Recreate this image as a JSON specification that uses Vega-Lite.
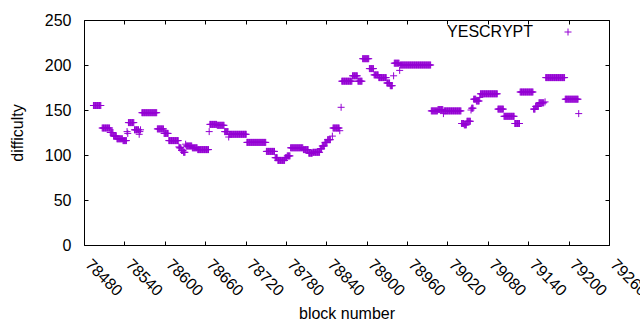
{
"$schema": "https://vega.github.io/schema/vega-lite/v6.json",
"width": 525, "height": 225,
"autosize": {"type": "none"},
"padding": {"left": 84, "top": 20, "right": 31, "bottom": 85},
"background": "white",
"config": {
  "font": "Liberation Sans",
  "view": {"stroke": "#000", "strokeWidth": 1},
  "axis": {"grid": false, "domain": false, "tickColor": "#000", "tickSize": 4, "offset": -4, "labelColor": "#000", "titleColor": "#000", "labelFontSize": 16, "titleFontSize": 16, "titleFontWeight": "normal", "labelFont": "Liberation Sans", "titleFont": "Liberation Sans"}
},
"datasets": {"pts": [
{"b":78494,"d":155},{"b":78495,"d":155},{"b":78496,"d":155},{"b":78497,"d":155},{"b":78498,"d":155},{"b":78499,"d":155},{"b":78500,"d":155},{"b":78501,"d":155},{"b":78502,"d":155},{"b":78503,"d":155},{"b":78504,"d":155},{"b":78505,"d":155},
{"b":78507,"d":130},{"b":78508,"d":130},{"b":78509,"d":130},{"b":78510,"d":130},{"b":78511,"d":130},{"b":78512,"d":130},{"b":78513,"d":130},{"b":78514,"d":130},{"b":78515,"d":130},{"b":78516,"d":130},{"b":78517,"d":130},{"b":78518,"d":130},
{"b":78519,"d":125},{"b":78520,"d":125},{"b":78521,"d":125},{"b":78522,"d":125},{"b":78523,"d":125},
{"b":78524,"d":121},{"b":78525,"d":121},{"b":78526,"d":121},{"b":78527,"d":121},{"b":78528,"d":121},
{"b":78529,"d":118},{"b":78530,"d":118},{"b":78531,"d":118},{"b":78532,"d":118},{"b":78533,"d":118},{"b":78534,"d":118},{"b":78535,"d":118},{"b":78536,"d":118},{"b":78537,"d":118},
{"b":78538,"d":116},{"b":78539,"d":116},{"b":78540,"d":116},{"b":78541,"d":116},{"b":78542,"d":116},{"b":78543,"d":116},
{"b":78544,"d":126},{"b":78545,"d":124},
{"b":78546,"d":136},{"b":78547,"d":136},{"b":78548,"d":136},{"b":78549,"d":136},{"b":78550,"d":136},{"b":78551,"d":136},{"b":78552,"d":136},{"b":78553,"d":136},{"b":78554,"d":136},
{"b":78555,"d":128},{"b":78556,"d":128},{"b":78557,"d":128},{"b":78558,"d":128},{"b":78559,"d":128},{"b":78560,"d":128},{"b":78561,"d":128},{"b":78562,"d":123},{"b":78563,"d":126},{"b":78564,"d":128},
{"b":78566,"d":147},{"b":78567,"d":147},{"b":78568,"d":147},{"b":78569,"d":147},{"b":78570,"d":147},{"b":78571,"d":147},{"b":78572,"d":147},{"b":78573,"d":147},{"b":78574,"d":147},{"b":78575,"d":147},{"b":78576,"d":147},{"b":78577,"d":147},{"b":78578,"d":147},{"b":78579,"d":147},{"b":78580,"d":147},{"b":78581,"d":147},{"b":78582,"d":147},{"b":78583,"d":147},{"b":78584,"d":147},{"b":78585,"d":147},{"b":78586,"d":147},{"b":78587,"d":147},{"b":78588,"d":147},
{"b":78589,"d":129},{"b":78590,"d":129},{"b":78591,"d":129},{"b":78592,"d":129},{"b":78593,"d":129},{"b":78594,"d":129},{"b":78595,"d":129},{"b":78596,"d":129},{"b":78597,"d":129},{"b":78598,"d":129},
{"b":78599,"d":124},{"b":78600,"d":124},{"b":78601,"d":124},{"b":78602,"d":124},{"b":78603,"d":124},{"b":78604,"d":124},{"b":78605,"d":124},
{"b":78606,"d":116},{"b":78607,"d":116},{"b":78608,"d":116},{"b":78609,"d":116},{"b":78610,"d":116},{"b":78611,"d":116},{"b":78612,"d":116},{"b":78613,"d":116},{"b":78614,"d":116},{"b":78615,"d":116},{"b":78616,"d":116},{"b":78617,"d":116},{"b":78618,"d":116},{"b":78619,"d":116},{"b":78620,"d":116},
{"b":78621,"d":109},{"b":78622,"d":108},{"b":78623,"d":108},{"b":78624,"d":108},{"b":78625,"d":105},{"b":78626,"d":105},{"b":78627,"d":105},{"b":78628,"d":103},{"b":78629,"d":103},{"b":78630,"d":103},
{"b":78631,"d":112},
{"b":78632,"d":110},{"b":78633,"d":110},{"b":78634,"d":110},{"b":78635,"d":110},{"b":78636,"d":110},{"b":78637,"d":110},{"b":78638,"d":110},{"b":78639,"d":110},{"b":78640,"d":110},
{"b":78641,"d":108},{"b":78642,"d":108},{"b":78643,"d":108},{"b":78644,"d":108},{"b":78645,"d":108},{"b":78646,"d":108},{"b":78647,"d":108},{"b":78648,"d":108},
{"b":78649,"d":106},{"b":78650,"d":106},{"b":78651,"d":106},{"b":78652,"d":106},{"b":78653,"d":106},{"b":78654,"d":106},{"b":78655,"d":106},{"b":78656,"d":106},{"b":78657,"d":106},{"b":78658,"d":106},{"b":78659,"d":106},{"b":78660,"d":106},{"b":78661,"d":106},{"b":78662,"d":106},{"b":78663,"d":106},{"b":78664,"d":106},{"b":78665,"d":106},
{"b":78666,"d":126},
{"b":78667,"d":134},{"b":78668,"d":134},{"b":78669,"d":134},{"b":78670,"d":134},{"b":78671,"d":134},{"b":78672,"d":134},{"b":78673,"d":134},{"b":78674,"d":134},{"b":78675,"d":134},{"b":78676,"d":134},{"b":78677,"d":134},
{"b":78678,"d":133},{"b":78679,"d":133},{"b":78680,"d":133},{"b":78681,"d":133},{"b":78682,"d":133},{"b":78683,"d":133},{"b":78684,"d":133},{"b":78685,"d":133},{"b":78686,"d":133},{"b":78687,"d":133},{"b":78688,"d":133},
{"b":78689,"d":126},{"b":78690,"d":126},{"b":78691,"d":126},{"b":78692,"d":126},{"b":78693,"d":126},{"b":78694,"d":126},
{"b":78695,"d":120},
{"b":78696,"d":123},{"b":78697,"d":123},{"b":78698,"d":123},{"b":78699,"d":123},{"b":78700,"d":123},{"b":78701,"d":123},{"b":78702,"d":123},{"b":78703,"d":123},{"b":78704,"d":123},{"b":78705,"d":123},{"b":78706,"d":123},{"b":78707,"d":123},{"b":78708,"d":123},{"b":78709,"d":123},{"b":78710,"d":123},{"b":78711,"d":123},{"b":78712,"d":123},{"b":78713,"d":123},{"b":78714,"d":123},{"b":78715,"d":123},{"b":78716,"d":123},{"b":78717,"d":123},{"b":78718,"d":123},{"b":78719,"d":123},{"b":78720,"d":123},{"b":78721,"d":123},
{"b":78722,"d":114},{"b":78723,"d":114},{"b":78724,"d":114},{"b":78725,"d":114},{"b":78726,"d":114},{"b":78727,"d":114},{"b":78728,"d":114},{"b":78729,"d":114},{"b":78730,"d":114},{"b":78731,"d":114},{"b":78732,"d":114},{"b":78733,"d":114},{"b":78734,"d":114},{"b":78735,"d":114},{"b":78736,"d":114},{"b":78737,"d":114},{"b":78738,"d":114},{"b":78739,"d":114},{"b":78740,"d":114},{"b":78741,"d":114},{"b":78742,"d":114},{"b":78743,"d":114},{"b":78744,"d":114},{"b":78745,"d":114},{"b":78746,"d":114},{"b":78747,"d":114},{"b":78748,"d":114},{"b":78749,"d":114},{"b":78750,"d":114},
{"b":78751,"d":104},{"b":78752,"d":104},{"b":78753,"d":104},{"b":78754,"d":104},{"b":78755,"d":104},{"b":78756,"d":104},{"b":78757,"d":104},{"b":78758,"d":104},{"b":78759,"d":104},{"b":78760,"d":104},{"b":78761,"d":104},{"b":78762,"d":104},{"b":78763,"d":104},
{"b":78764,"d":97},{"b":78765,"d":97},{"b":78766,"d":97},{"b":78767,"d":97},
{"b":78768,"d":94},{"b":78769,"d":94},{"b":78770,"d":94},{"b":78771,"d":94},{"b":78772,"d":94},{"b":78773,"d":94},{"b":78774,"d":94},{"b":78775,"d":94},{"b":78776,"d":94},{"b":78777,"d":94},{"b":78778,"d":94},
{"b":78779,"d":97},{"b":78780,"d":97},{"b":78781,"d":97},
{"b":78782,"d":99},{"b":78783,"d":99},{"b":78784,"d":99},{"b":78785,"d":99},{"b":78786,"d":99},
{"b":78787,"d":108},{"b":78788,"d":108},{"b":78789,"d":108},{"b":78790,"d":108},{"b":78791,"d":108},{"b":78792,"d":108},{"b":78793,"d":108},{"b":78794,"d":108},{"b":78795,"d":108},{"b":78796,"d":108},{"b":78797,"d":108},{"b":78798,"d":108},{"b":78799,"d":108},{"b":78800,"d":108},{"b":78801,"d":108},{"b":78802,"d":108},{"b":78803,"d":108},{"b":78804,"d":108},{"b":78805,"d":108},
{"b":78806,"d":106},{"b":78807,"d":106},{"b":78808,"d":106},{"b":78809,"d":106},{"b":78810,"d":106},{"b":78811,"d":106},{"b":78812,"d":106},{"b":78813,"d":106},
{"b":78814,"d":102},{"b":78815,"d":102},{"b":78816,"d":102},{"b":78817,"d":102},{"b":78818,"d":102},{"b":78819,"d":102},
{"b":78820,"d":103},{"b":78821,"d":103},{"b":78822,"d":103},{"b":78823,"d":103},{"b":78824,"d":103},{"b":78825,"d":103},{"b":78826,"d":103},{"b":78827,"d":103},{"b":78828,"d":103},{"b":78829,"d":103},{"b":78830,"d":103},
{"b":78831,"d":107},{"b":78832,"d":107},{"b":78833,"d":107},
{"b":78834,"d":110},{"b":78835,"d":110},{"b":78836,"d":110},{"b":78837,"d":110},
{"b":78838,"d":114},{"b":78839,"d":114},{"b":78840,"d":114},{"b":78841,"d":114},
{"b":78842,"d":117},{"b":78843,"d":117},{"b":78844,"d":117},{"b":78845,"d":117},{"b":78846,"d":117},
{"b":78849,"d":121},
{"b":78850,"d":130},{"b":78851,"d":130},{"b":78852,"d":130},{"b":78853,"d":130},{"b":78854,"d":130},{"b":78855,"d":130},{"b":78856,"d":130},{"b":78857,"d":130},{"b":78858,"d":130},{"b":78859,"d":130},{"b":78860,"d":127},
{"b":78862,"d":153},
{"b":78863,"d":182},{"b":78864,"d":182},{"b":78865,"d":182},{"b":78866,"d":182},{"b":78867,"d":182},{"b":78868,"d":182},{"b":78869,"d":182},{"b":78870,"d":182},{"b":78871,"d":182},{"b":78872,"d":182},{"b":78873,"d":182},{"b":78874,"d":182},{"b":78875,"d":182},{"b":78876,"d":182},{"b":78877,"d":182},{"b":78878,"d":182},
{"b":78879,"d":188},{"b":78880,"d":188},{"b":78881,"d":188},{"b":78882,"d":188},{"b":78883,"d":188},{"b":78884,"d":188},{"b":78885,"d":188},{"b":78886,"d":188},
{"b":78887,"d":182},{"b":78888,"d":182},{"b":78889,"d":182},{"b":78890,"d":182},{"b":78891,"d":182},{"b":78892,"d":182},{"b":78893,"d":182},
{"b":78894,"d":207},{"b":78895,"d":207},{"b":78896,"d":207},{"b":78897,"d":207},{"b":78898,"d":207},{"b":78899,"d":207},{"b":78900,"d":207},{"b":78901,"d":207},{"b":78902,"d":207},{"b":78903,"d":207},
{"b":78904,"d":196},{"b":78905,"d":196},{"b":78906,"d":196},{"b":78907,"d":196},{"b":78908,"d":196},{"b":78909,"d":196},{"b":78910,"d":196},
{"b":78911,"d":189},{"b":78912,"d":189},{"b":78913,"d":189},{"b":78914,"d":189},{"b":78915,"d":189},{"b":78916,"d":189},{"b":78917,"d":189},
{"b":78918,"d":186},{"b":78919,"d":186},{"b":78920,"d":186},{"b":78921,"d":186},{"b":78922,"d":186},{"b":78923,"d":186},{"b":78924,"d":186},{"b":78925,"d":186},{"b":78926,"d":186},{"b":78927,"d":186},{"b":78928,"d":186},{"b":78929,"d":186},
{"b":78930,"d":180},{"b":78931,"d":180},{"b":78932,"d":180},{"b":78933,"d":180},{"b":78934,"d":180},
{"b":78935,"d":177},{"b":78936,"d":177},{"b":78937,"d":177},{"b":78938,"d":177},
{"b":78940,"d":188},
{"b":78941,"d":202},{"b":78942,"d":202},{"b":78943,"d":202},{"b":78944,"d":202},{"b":78945,"d":202},{"b":78946,"d":202},{"b":78947,"d":202},{"b":78948,"d":202},
{"b":78949,"d":194},
{"b":78950,"d":200},{"b":78951,"d":200},{"b":78952,"d":200},{"b":78953,"d":200},{"b":78954,"d":200},{"b":78955,"d":200},{"b":78956,"d":200},{"b":78957,"d":200},{"b":78958,"d":200},{"b":78959,"d":200},{"b":78960,"d":200},{"b":78961,"d":200},{"b":78962,"d":200},{"b":78963,"d":200},{"b":78964,"d":200},{"b":78965,"d":200},{"b":78966,"d":200},{"b":78967,"d":200},{"b":78968,"d":200},{"b":78969,"d":200},{"b":78970,"d":200},{"b":78971,"d":200},{"b":78972,"d":200},{"b":78973,"d":200},{"b":78974,"d":200},{"b":78975,"d":200},{"b":78976,"d":200},{"b":78977,"d":200},{"b":78978,"d":200},{"b":78979,"d":200},{"b":78980,"d":200},{"b":78981,"d":200},{"b":78982,"d":200},{"b":78983,"d":200},{"b":78984,"d":200},{"b":78985,"d":200},{"b":78986,"d":200},{"b":78987,"d":200},{"b":78988,"d":200},{"b":78989,"d":200},{"b":78990,"d":200},{"b":78991,"d":200},{"b":78992,"d":200},{"b":78993,"d":200},{"b":78994,"d":200},{"b":78995,"d":200},
{"b":78996,"d":149},{"b":78997,"d":149},{"b":78998,"d":149},{"b":78999,"d":149},{"b":79000,"d":149},{"b":79001,"d":149},{"b":79002,"d":149},{"b":79003,"d":149},{"b":79004,"d":149},{"b":79005,"d":149},
{"b":79006,"d":150.5},{"b":79007,"d":150.5},{"b":79008,"d":150.5},{"b":79009,"d":150.5},{"b":79010,"d":150.5},{"b":79011,"d":150.5},{"b":79012,"d":150.5},{"b":79013,"d":150.5},
{"b":79014,"d":146},
{"b":79015,"d":149},{"b":79016,"d":149},{"b":79017,"d":149},{"b":79018,"d":149},{"b":79019,"d":149},{"b":79020,"d":149},{"b":79021,"d":149},{"b":79022,"d":149},{"b":79023,"d":149},{"b":79024,"d":149},{"b":79025,"d":149},{"b":79026,"d":149},{"b":79027,"d":149},{"b":79028,"d":149},{"b":79029,"d":149},{"b":79030,"d":149},{"b":79031,"d":149},{"b":79032,"d":149},{"b":79033,"d":149},{"b":79034,"d":149},{"b":79035,"d":149},{"b":79036,"d":149},{"b":79037,"d":149},{"b":79038,"d":149},{"b":79039,"d":149},{"b":79040,"d":149},
{"b":79041,"d":135},{"b":79042,"d":135},{"b":79043,"d":135},{"b":79044,"d":135},
{"b":79045,"d":133.5},{"b":79046,"d":133.5},{"b":79047,"d":133.5},{"b":79048,"d":133.5},
{"b":79049,"d":137.5},{"b":79050,"d":137.5},{"b":79051,"d":137.5},{"b":79052,"d":137.5},{"b":79053,"d":137.5},{"b":79054,"d":137.5},
{"b":79055,"d":150},{"b":79056,"d":152},{"b":79057,"d":152},{"b":79058,"d":152},
{"b":79059,"d":162},{"b":79060,"d":162},{"b":79061,"d":162},{"b":79062,"d":162},
{"b":79063,"d":160},{"b":79064,"d":160},{"b":79065,"d":160},{"b":79066,"d":160},{"b":79067,"d":160},
{"b":79068,"d":164},
{"b":79069,"d":168},{"b":79070,"d":168},{"b":79071,"d":168},{"b":79072,"d":168},{"b":79073,"d":168},{"b":79074,"d":168},{"b":79075,"d":168},{"b":79076,"d":168},{"b":79077,"d":168},{"b":79078,"d":168},{"b":79079,"d":168},{"b":79080,"d":168},{"b":79081,"d":168},{"b":79082,"d":168},{"b":79083,"d":168},{"b":79084,"d":168},{"b":79085,"d":168},{"b":79086,"d":168},{"b":79087,"d":168},{"b":79088,"d":168},{"b":79089,"d":168},{"b":79090,"d":168},{"b":79091,"d":168},{"b":79092,"d":168},{"b":79093,"d":168},{"b":79094,"d":168},
{"b":79095,"d":151},{"b":79096,"d":151},{"b":79097,"d":151},{"b":79098,"d":151},{"b":79099,"d":151},{"b":79100,"d":151},{"b":79101,"d":151},{"b":79102,"d":151},{"b":79103,"d":151},
{"b":79104,"d":143},{"b":79105,"d":143},{"b":79106,"d":143},{"b":79107,"d":143},{"b":79108,"d":143},{"b":79109,"d":143},{"b":79110,"d":143},{"b":79111,"d":143},{"b":79112,"d":143},{"b":79113,"d":143},{"b":79114,"d":143},{"b":79115,"d":143},{"b":79116,"d":143},{"b":79117,"d":143},{"b":79118,"d":143},{"b":79119,"d":143},
{"b":79120,"d":135},{"b":79121,"d":135},{"b":79122,"d":135},{"b":79123,"d":135},{"b":79124,"d":135},{"b":79125,"d":135},{"b":79126,"d":135},{"b":79127,"d":135},
{"b":79128,"d":170},{"b":79129,"d":170},{"b":79130,"d":170},{"b":79131,"d":170},{"b":79132,"d":170},{"b":79133,"d":170},{"b":79134,"d":170},{"b":79135,"d":170},{"b":79136,"d":170},{"b":79137,"d":170},{"b":79138,"d":170},{"b":79139,"d":170},{"b":79140,"d":170},{"b":79141,"d":170},{"b":79142,"d":170},{"b":79143,"d":170},{"b":79144,"d":170},{"b":79145,"d":170},{"b":79146,"d":170},{"b":79147,"d":170},
{"b":79148,"d":151},{"b":79149,"d":151},{"b":79150,"d":151},
{"b":79151,"d":154},{"b":79152,"d":154},{"b":79153,"d":154},{"b":79154,"d":154},{"b":79155,"d":154},
{"b":79156,"d":158},{"b":79157,"d":158},{"b":79158,"d":158},{"b":79159,"d":158},{"b":79160,"d":158},{"b":79161,"d":158},{"b":79162,"d":158},{"b":79163,"d":158},
{"b":79165,"d":159},
{"b":79166,"d":186},{"b":79167,"d":186},{"b":79168,"d":186},{"b":79169,"d":186},{"b":79170,"d":186},{"b":79171,"d":186},{"b":79172,"d":186},{"b":79173,"d":186},{"b":79174,"d":186},{"b":79175,"d":186},{"b":79176,"d":186},{"b":79177,"d":186},{"b":79178,"d":186},{"b":79179,"d":186},{"b":79180,"d":186},{"b":79181,"d":186},{"b":79182,"d":186},{"b":79183,"d":186},{"b":79184,"d":186},{"b":79185,"d":186},{"b":79186,"d":186},{"b":79187,"d":186},{"b":79188,"d":186},{"b":79189,"d":186},{"b":79190,"d":186},{"b":79191,"d":186},{"b":79192,"d":186},{"b":79193,"d":186},{"b":79194,"d":186},
{"b":79195,"d":162},{"b":79196,"d":162},{"b":79197,"d":162},{"b":79198,"d":162},{"b":79199,"d":162},{"b":79200,"d":162},{"b":79201,"d":162},{"b":79202,"d":162},{"b":79203,"d":162},{"b":79204,"d":162},{"b":79205,"d":162},{"b":79206,"d":162},{"b":79207,"d":162},{"b":79208,"d":162},{"b":79209,"d":162},{"b":79210,"d":162},{"b":79211,"d":162},{"b":79212,"d":162},{"b":79213,"d":162},{"b":79214,"d":162},
{"b":79215,"d":146}
]},
"data": {"name": "pts"},
"layer": [
  {
    "mark": {"type": "point", "shape": "M-1,0H1M0,-1V1", "size": 49, "filled": false, "strokeWidth": 1, "opacity": 1},
    "encoding": {
      "x": {"field": "b", "type": "quantitative", "scale": {"domain": [78480, 79260], "nice": false, "zero": false},
            "axis": {"title": "block number", "values": [78480,78540,78600,78660,78720,78780,78840,78900,78960,79020,79080,79140,79200,79260], "format": "d", "labelAngle": 45, "labelAlign": "left", "labelBaseline": "alphabetic", "labelPadding": 20, "labelFlush": false, "labelOverlap": false, "labelBound": false, "titlePadding": 7}},
      "y": {"field": "d", "type": "quantitative", "scale": {"domain": [0, 250], "nice": false},
            "axis": {"title": "difficulty", "values": [0,50,100,150,200,250], "labelPadding": 13, "titlePadding": 19}},
      "color": {"datum": "YESCRYPT", "type": "nominal", "scale": {"range": ["#9400d3"]},
                "legend": {"title": null, "orient": "none", "legendX": 476, "legendY": 4, "padding": 0, "symbolType": "M-1,0H1M0,-1V1", "symbolSize": 49, "symbolStrokeWidth": 1, "labelAlign": "right", "labelOffset": -43, "labelFontSize": 16, "labelColor": "#000", "labelFont": "Liberation Sans"}}
    }
  },
  {
    "mark": {"type": "point", "opacity": 0},
    "encoding": {
      "x": {"field": "b", "type": "quantitative", "scale": {"domain": [78480, 79260], "nice": false, "zero": false},
            "axis": {"orient": "top", "labels": false, "title": null, "values": [78480,78540,78600,78660,78720,78780,78840,78900,78960,79020,79080,79140,79200,79260]}},
      "y": {"field": "d", "type": "quantitative", "scale": {"domain": [0, 250], "nice": false},
            "axis": {"orient": "right", "labels": false, "title": null, "values": [0,50,100,150,200,250]}}
    }
  }
],
"resolve": {"axis": {"x": "independent", "y": "independent"}}
}
